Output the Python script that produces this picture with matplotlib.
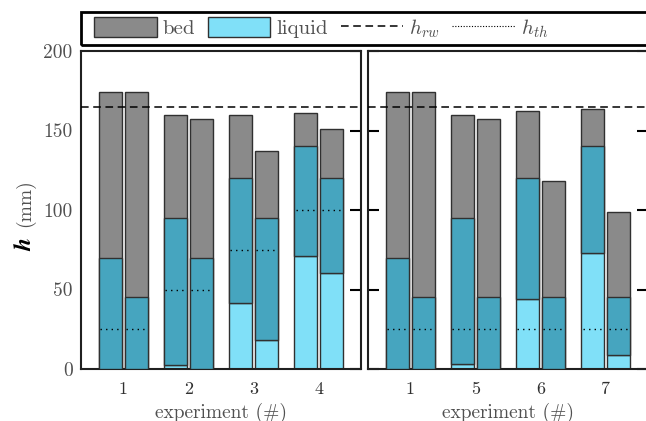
import matplotlib
matplotlib.use('Agg')
import matplotlib.pyplot as plt
from matplotlib.patches import Patch, Rectangle
from matplotlib.lines import Line2D
import numpy as np

plt.rcParams['font.family'] = ['cmr10', 'DejaVu Serif']
plt.rcParams['mathtext.fontset'] = 'cm'
plt.rcParams['axes.unicode_minus'] = False

# left panel: experiments 1-4, two bars per experiment (a, b)
exp_left = ['1', '2', '3', '4']
bed_top_left_a = [174, 159.5, 160, 161]
bed_top_left_b = [174, 157, 137, 151]
bed_bot_left_a = [0, 2.5, 41.5, 71]
bed_bot_left_b = [0, 0, 18.5, 60.5]
liq_left_a = [70, 95, 120, 140]
liq_left_b = [45, 70, 95, 120]
hth_left = [25, 50, 75, 100]

# right panel: experiments 1, 5, 6, 7
exp_right = ['1', '5', '6', '7']
bed_top_right_a = [174, 160, 162.5, 163.5]
bed_top_right_b = [174, 157, 118.5, 98.5]
bed_bot_right_a = [0, 3, 44, 73]
bed_bot_right_b = [0, 0, 0, 8.5]
liq_right_a = [70, 95, 120, 140]
liq_right_b = [45, 45, 45, 45]
hth_right = [25, 25, 25, 25]

h_rw = 165

GREY = '#8a8a8a'
LIGHT = '#80e0f8'
TEAL = '#46a5bf'
EDGE = '#303030'
TXT = '#505050'

W = 0.35
OFF = 0.2


def draw_bars(ax, x, top, bot, liq, hth):
    top, bot, liq = np.array(top), np.array(bot), np.array(liq)
    ax.bar(x, top - bot, W, bottom=bot, color=GREY, edgecolor=EDGE, lw=1, zorder=2)
    ax.bar(x, bot, W, color=LIGHT, edgecolor=EDGE, lw=1, zorder=2)
    ax.bar(x, liq - bot, W, bottom=bot, color=TEAL, edgecolor=EDGE, lw=1, zorder=3)
    for xi, hi in zip(x, hth):
        ax.plot([xi - W / 2 + 0.02, xi + W / 2 - 0.02], [hi, hi], ls=(0, (1, 3)),
                color='black', lw=1, zorder=4)


def panel(ax, labels, ta, tb, ba, bb, la, lb, hth):
    x = np.arange(1, len(labels) + 1)
    draw_bars(ax, x - OFF, ta, ba, la, hth)
    draw_bars(ax, x + OFF, tb, bb, lb, hth)
    ax.axhline(h_rw, color='black', ls=(0, (5, 3)), lw=1.1, zorder=5)
    ax.set_xlim(0.35, 4.65)
    ax.set_ylim(0, 200)
    ax.set_xticks(x)
    ax.set_xticklabels(labels, fontsize=13, color='#303030')
    ax.tick_params(axis='x', length=0, pad=9)
    ax.set_xlabel('experiment (#)', fontsize=14, color=TXT, labelpad=4)
    for s in ax.spines.values():
        s.set_linewidth(1.5)
        s.set_color('#202020')


fig = plt.figure(figsize=(6.46, 4.21), dpi=100)
axL = fig.add_axes([81 / 646, 1 - 369 / 421, 280 / 646, 318 / 421])
axR = fig.add_axes([368 / 646, 1 - 369 / 421, 280 / 646, 318 / 421])

panel(axL, exp_left, bed_top_left_a, bed_top_left_b, bed_bot_left_a,
      bed_bot_left_b, liq_left_a, liq_left_b, hth_left)
panel(axR, exp_right, bed_top_right_a, bed_top_right_b, bed_bot_right_a,
      bed_bot_right_b, liq_right_a, liq_right_b, hth_right)

axL.set_yticks([0, 50, 100, 150, 200])
axL.tick_params(axis='y', direction='in', length=8, width=1.5, left=False,
                right=True, labelsize=14, labelcolor=TXT, pad=6)
axL.tick_params(axis='y', which='major', labelleft=True)
axR.set_yticks([0, 50, 100, 150, 200])
axR.tick_params(axis='y', direction='in', length=8, width=1.5, left=True,
                right=True, labelleft=False)

# y label: bold italic h + (mm)
fig.text(25 / 646, 1 - 244 / 421, r'$\mathbfit{h}$', math_fontfamily='stix',
         fontsize=17, rotation=90, ha='center', va='center', color='black')
fig.text(25 / 646, 1 - 203 / 421, '(mm)', fontsize=14, rotation=90,
         ha='center', va='center', color=TXT)

# legend box across the top
fig.patches.append(Rectangle((81 / 646, 1 - 45 / 421), 0.99, 33 / 421,
                             transform=fig.transFigure, fill=False,
                             lw=2, ec='black'))
handles = [Patch(facecolor=GREY, edgecolor=EDGE, lw=1),
           Patch(facecolor=LIGHT, edgecolor=EDGE, lw=1),
           Line2D([], [], color='black', ls=(0, (5, 3)), lw=1.1),
           Line2D([], [], color='black', ls=(0, (1, 1.5)), lw=0.8)]
names = ['bed', 'liquid', r'$h_{rw}$', r'$h_{th}$']
leg = fig.legend(handles, names, loc='center left', ncol=4, frameon=False,
                 bbox_to_anchor=(94 / 646, 1 - 28.5 / 421), fontsize=15,
                 handlelength=3.0, handleheight=1.1, handletextpad=0.3,
                 columnspacing=0.6, borderpad=0, borderaxespad=0)
for t in leg.get_texts():
    t.set_color(TXT)

fig.savefig('out.png', dpi=100)
